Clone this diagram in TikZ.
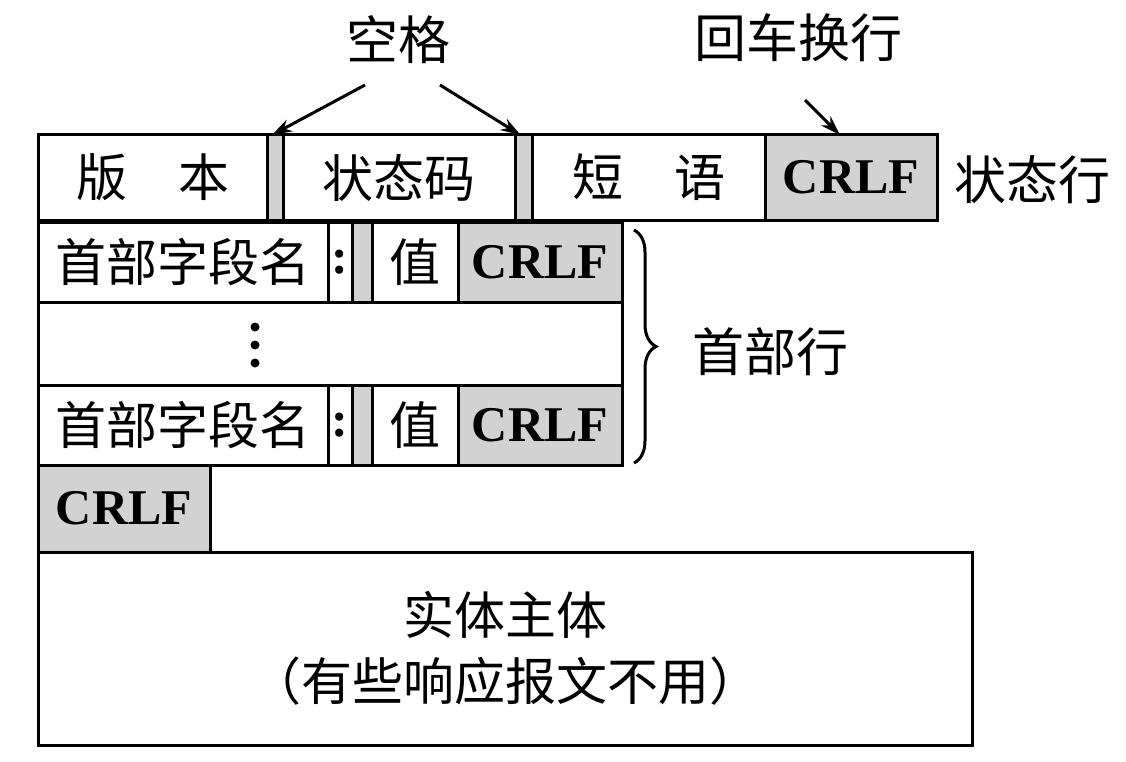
\documentclass[tikz,border=0pt]{standalone}
\usepackage{fontspec}
\setmainfont{Liberation Serif}
\newfontfamily\cjk{Noto Sans CJK SC}
\usetikzlibrary{arrows.meta,decorations.pathreplacing}
\definecolor{cellgray}{HTML}{D2D2D2}
\tikzset{
  cell/.style={draw, line width=3pt, inner sep=0pt, outer sep=0pt, anchor=north west,
    font=\cjk\fontsize{51pt}{58pt}\selectfont},
  graycell/.style={cell, fill=cellgray},
  crlf/.style={graycell, font=\bfseries\fontsize{50pt}{58pt}\selectfont},
  lbl/.style={inner sep=0pt, font=\cjk\fontsize{52pt}{60pt}\selectfont},
  arr/.style={line width=3pt, -{Stealth[length=20pt,width=13pt]}}
}
\begin{document}
\begin{tikzpicture}[x=1pt,y=-1pt]
\useasboundingbox (0,0) rectangle (1126,762);
% labels
\node[lbl] (kg) at (398,40) {空格};
\node[lbl] (hc) at (798,38) {回车换行};
\node[lbl] (ztx) at (1032,180) {状态行};
\node[lbl] (sbh) at (770,352) {首部行};
% status row
\node[cell, minimum width=229pt, minimum height=85pt] (ver) at (38,135) {版　本};
\node[graycell, minimum width=16pt, minimum height=85pt] (g1) at (267,135) {};
\node[cell, minimum width=232pt, minimum height=85pt] (sc) at (283,135) {状态码};
\node[graycell, minimum width=17pt, minimum height=85pt] (g2) at (515,135) {};
\node[cell, minimum width=233pt, minimum height=85pt] (dy) at (532,135) {短　语};
\node[crlf, minimum width=172pt, minimum height=85pt] (cr0) at (765,135) {CRLF};
% header row 1
\node[cell, minimum width=290pt, minimum height=80pt] (n1) at (38,222) {首部字段名};
\node[cell, minimum width=24pt, minimum height=80pt, font=\bfseries\fontsize{50pt}{58pt}\selectfont] (c1) at (328,222) {:};
\node[graycell, minimum width=20pt, minimum height=80pt] (s1) at (352,222) {};
\node[cell, minimum width=86pt, minimum height=80pt] (v1) at (372,222) {值};
\node[crlf, minimum width=164pt, minimum height=80pt] (cr1) at (458,222) {CRLF};
% dots row
\node[cell, minimum width=584pt, minimum height=83pt] (dots) at (38,302) {};
\fill (255,327) circle (4.5pt) (255,345) circle (4.5pt) (255,363) circle (4.5pt);
% header row 2
\node[cell, minimum width=290pt, minimum height=80pt] (n2) at (38,385) {首部字段名};
\node[cell, minimum width=24pt, minimum height=80pt, font=\bfseries\fontsize{50pt}{58pt}\selectfont] (c2) at (328,385) {:};
\node[graycell, minimum width=20pt, minimum height=80pt] (s2) at (352,385) {};
\node[cell, minimum width=86pt, minimum height=80pt] (v2) at (372,385) {值};
\node[crlf, minimum width=164pt, minimum height=80pt] (cr2) at (458,385) {CRLF};
% empty line
\node[crlf, minimum width=172pt, minimum height=87pt] (cr3) at (38,465) {CRLF};
% body
\node[cell, minimum width=934pt, minimum height=193pt, align=center, font=\cjk\fontsize{51pt}{66pt}\selectfont] (body) at (38,552) {实体主体\\（有些响应报文不用）};
% arrows
\draw[arr] ([shift={(-33,45)}]kg.center) -- ([xshift=-3pt]g1.north);
\draw[arr] ([shift={(42,45)}]kg.center) -- ([xshift=-3pt]g2.north);
\draw[arr] ([shift={(7,62)}]hc.center) -- ([xshift=-11pt]cr0.north);
% brace
\draw[line width=3pt, decorate, decoration={brace, amplitude=22pt}] ([xshift=12pt,yshift=-8pt]cr1.north east) -- ([xshift=12pt,yshift=2pt]cr2.south east);
\end{tikzpicture}
\end{document}
